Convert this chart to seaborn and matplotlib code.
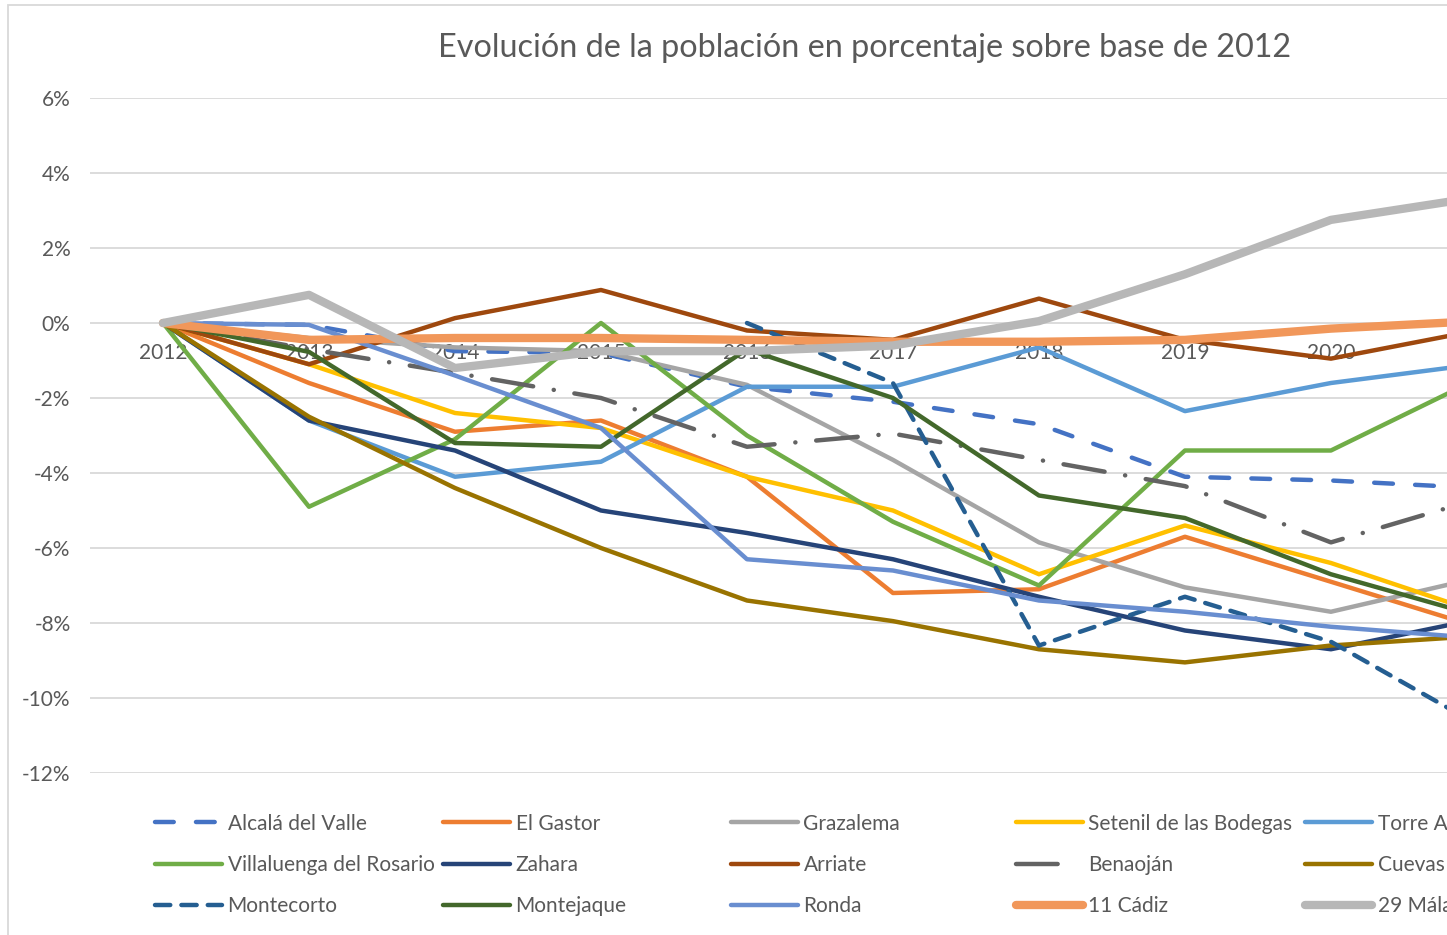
import numpy as np
import pandas as pd
import matplotlib.pyplot as plt
import seaborn as sns
from matplotlib.lines import Line2D
from matplotlib.patches import Rectangle

# === DATA (percent change vs 2012) ===
years = [2012, 2013, 2014, 2015, 2016, 2017, 2018, 2019, 2020, 2021]

alcala = [0, -0.05, -0.75, -0.8, -1.7, -2.1, -2.7, -4.1, -4.2, -4.4]
el_gastor = [0, -1.6, -2.9, -2.6, -4.1, -7.2, -7.1, -5.7, -6.9, -8.1]
grazalema = [0, -0.4, -0.65, -0.75, -1.65, -3.65, -5.85, -7.05, -7.7, -6.8]
setenil = [0, -1.1, -2.4, -2.8, -4.1, -5.0, -6.7, -5.4, -6.4, -7.7]
torre = [0, -2.6, -4.1, -3.7, -1.7, -1.7, -0.65, -2.35, -1.6, -1.1]
villaluenga = [0, -4.9, -3.1, 0, -3.0, -5.3, -7.0, -3.4, -3.4, -1.5]
zahara = [0, -2.6, -3.4, -5.0, -5.6, -6.3, -7.3, -8.2, -8.7, -7.9]
arriate = [0, -1.1, 0.13, 0.88, -0.2, -0.45, 0.65, -0.45, -0.95, -0.2]
benaojan = [0, -0.7, -1.33, -2.0, -3.3, -2.95, -3.65, -4.35, -5.85, -4.7]
cuevas = [0, -2.5, -4.4, -6.0, -7.4, -7.95, -8.7, -9.05, -8.6, -8.35]
montecorto = [np.nan, np.nan, np.nan, np.nan, 0, -1.6, -8.6, -7.3, -8.5, -10.7]
montejaque = [0, -0.77, -3.2, -3.3, -0.7, -2.0, -4.6, -5.2, -6.7, -7.8]
ronda = [0, -0.05, -1.4, -2.8, -6.3, -6.6, -7.4, -7.7, -8.1, -8.4]
cadiz = [0, -0.45, -0.4, -0.4, -0.45, -0.5, -0.5, -0.45, -0.15, 0.05]
malaga = [0, 0.75, -1.2, -0.75, -0.75, -0.6, 0.05, 1.3, 2.75, 3.35]

names = ["Alcalá del Valle", "El Gastor", "Grazalema", "Setenil de las Bodegas",
         "Torre Alháquime", "Villaluenga del Rosario", "Zahara", "Arriate",
         "Benaoján", "Cuevas del Becerro", "Montecorto", "Montejaque", "Ronda",
         "11 Cádiz", "29 Málaga"]
values = [alcala, el_gastor, grazalema, setenil, torre, villaluenga, zahara,
          arriate, benaojan, cuevas, montecorto, montejaque, ronda, cadiz, malaga]

# === STYLE ===
colors = ["#4472C4", "#ED7D31", "#A5A5A5", "#FFC000", "#5B9BD5", "#70AD47",
          "#264478", "#9E480E", "#636363", "#997300", "#255E91", "#43682B",
          "#698ED0", "#F1975A", "#B7B7B7"]
widths = [3.2] * 13 + [6.0, 6.0]
styles = ["-"] * 15
styles[0] = (0, (13.5, 16))                 # Alcalá: long dash
styles[8] = (0, (30, 15, 0.1, 15))          # Benaoján: long dash dot
styles[10] = (0, (11, 8))                   # Montecorto: dash
legend_styles = list(styles)
legend_styles[8] = (0, (30, 60))            # Excel shows only the first dash

TEXT = "#595959"
GRID = "#D9D9D9"
FS = 15

sns.set_style("white")
plt.rcParams["font.family"] = ["Lato", "DejaVu Sans"]
plt.rcParams["lines.scale_dashes"] = False

fig = plt.figure(figsize=(14.47, 9.35), dpi=100)
ax = fig.add_axes([90 / 1447, (935 - 773) / 935, 1357 / 1447, 675 / 935])

for name, vals, c, lw, ls in zip(names, values, colors, widths, styles):
    df = pd.DataFrame({"year": years, "pct": vals}).dropna()
    sns.lineplot(data=df, x="year", y="pct", ax=ax, color=c, linewidth=lw,
                 linestyle=ls, solid_capstyle="round", dash_capstyle="round",
                 solid_joinstyle="round")

ax.set_xlabel("")
ax.set_ylabel("")
ax.set_yticks(range(-12, 7, 2))
ax.set_yticklabels([f"{v}%" for v in range(-12, 7, 2)])
ax.set_xticks(years)
ax.set_xticklabels([str(y) for y in years])
# limits after the ticks, so the 2021 tick does not widen the view
ax.set_xlim(2011.5, 2020.795)
ax.set_ylim(-12, 6)
ax.tick_params(axis="both", length=0, labelsize=FS, labelcolor=TEXT)
ax.tick_params(axis="y", pad=14)
ax.tick_params(axis="x", pad=14.5)

ax.set_axisbelow(True)
ax.grid(axis="y", color=GRID, linewidth=1.3)
ax.grid(axis="x", visible=False)
for s in ax.spines.values():
    s.set_visible(False)
ax.spines["bottom"].set_position(("data", 0))

fig.text(865 / 1447, (935 - 48) / 935, "Evolución de la población en porcentaje sobre base de 2012",
         ha="center", va="center", fontsize=23.3, color=TEXT)

# chart border
fig.patches.append(Rectangle((8 / 1447, -0.05), 1.1, (935 - 5) / 935 + 0.05,
                             transform=fig.transFigure, fill=False,
                             edgecolor=GRID, linewidth=1.3, clip_on=False))

# === LEGEND: 5 columns x 3 rows, fixed column positions like Excel ===
col_x = [155, 443, 731, 1016, 1305]
for col in range(5):
    handles, labels = [], []
    for row in range(3):
        i = row * 5 + col
        handles.append(Line2D([], [], color=colors[i], linewidth=widths[i],
                              linestyle=legend_styles[i], solid_capstyle="round",
                              dash_capstyle="round"))
        labels.append(names[i])
    fig.legend(handles, labels, loc="upper left",
               bbox_to_anchor=(col_x[col] / 1447, (935 - 813.5) / 935),
               frameon=False, fontsize=FS, labelcolor=TEXT,
               handlelength=3.2, handletextpad=0.28, labelspacing=1.03,
               borderpad=0, borderaxespad=0)

fig.savefig("out.png", dpi=100)
